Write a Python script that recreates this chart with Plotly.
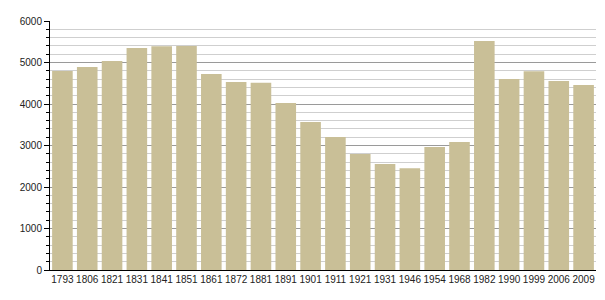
import plotly.graph_objects as go

years = ["1793", "1806", "1821", "1831", "1841", "1851", "1861", "1872", "1881", "1891",
         "1901", "1911", "1921", "1931", "1946", "1954", "1968", "1982", "1990", "1999",
         "2006", "2009"]
population = [4795, 4892, 5036, 5349, 5390, 5398, 4723, 4530, 4513, 4024,
              3566, 3205, 2795, 2554, 2450, 2964, 3084, 5518, 4602, 4787,
              4554, 4458]
y_ticks = [0, 1000, 2000, 3000, 4000, 5000, 6000]

fig = go.Figure(go.Bar(x=years, y=population, marker=dict(color="#C9BF97", line=dict(width=0))))

fig.update_layout(
    width=605, height=300,
    margin=dict(l=50, r=9, t=21, b=30, autoexpand=False),
    paper_bgcolor="white", plot_bgcolor="white",
    bargap=0.17,
    showlegend=False,
    font=dict(family="Liberation Sans, Arial, sans-serif", size=10, color="#222"),
)
fig.update_xaxes(
    type="category", range=[-0.5, len(years) - 0.5],
    showline=True, linecolor="black", linewidth=1,
    ticks="", showgrid=False, tickfont=dict(size=10), tickangle=0,
    automargin=False,
)
fig.update_yaxes(
    range=[0, 6000], tickvals=y_ticks, ticktext=[str(v) for v in y_ticks],
    showline=True, linecolor="black", linewidth=1,
    ticks="outside", ticklen=5, tickcolor="black",
    showgrid=True, gridcolor="#9a9a9a", gridwidth=1,
    minor=dict(dtick=200, showgrid=True, gridcolor="#cfcfcf", ticks="outside", ticklen=3, tickcolor="black"),
    zeroline=False, layer="below traces", automargin=False,
)
fig.write_html("out.html")
